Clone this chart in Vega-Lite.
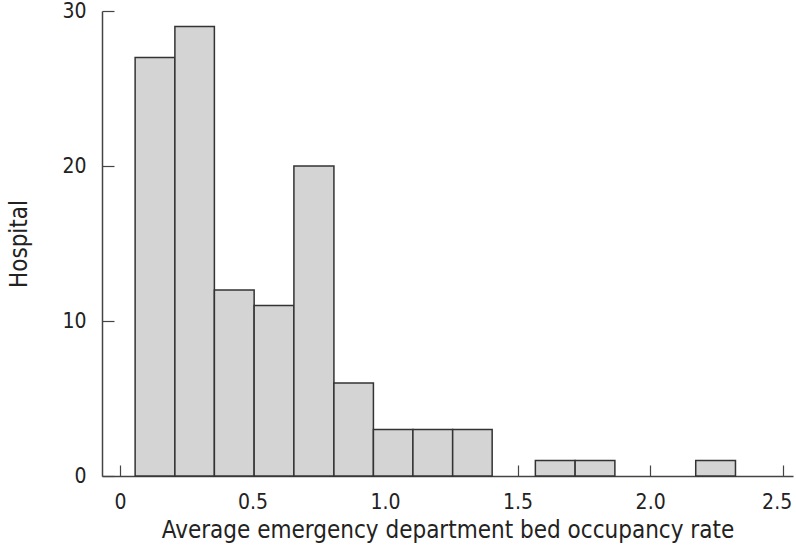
{
  "$schema": "https://vega.github.io/schema/vega-lite/v6.json",
  "autosize": "none",
  "width": 691,
  "height": 465,
  "padding": {"left": 102, "top": 11, "right": 3, "bottom": 74},
  "background": "white",
  "config": {
    "view": {"stroke": null},
    "font": "DejaVu Sans Condensed",
    "axis": {
      "grid": false,
      "domainColor": "#444444",
      "domainWidth": 1.5,
      "tickColor": "#444444",
      "tickWidth": 1.2,
      "labelColor": "#222222",
      "titleColor": "#222222",
      "labelFont": "DejaVu Sans Condensed",
      "titleFont": "DejaVu Sans Condensed",
      "labelFontSize": 21,
      "titleFontSize": 24,
      "titleFontWeight": "normal"
    }
  },
  "data": {
    "values": [
      {"start": 0.057, "end": 0.207, "count": 27},
      {"start": 0.207, "end": 0.356, "count": 29},
      {"start": 0.356, "end": 0.506, "count": 12},
      {"start": 0.506, "end": 0.656, "count": 11},
      {"start": 0.656, "end": 0.807, "count": 20},
      {"start": 0.807, "end": 0.956, "count": 6},
      {"start": 0.956, "end": 1.105, "count": 3},
      {"start": 1.105, "end": 1.255, "count": 3},
      {"start": 1.255, "end": 1.404, "count": 3},
      {"start": 1.567, "end": 1.717, "count": 1},
      {"start": 1.717, "end": 1.867, "count": 1},
      {"start": 2.172, "end": 2.322, "count": 1}
    ]
  },
  "mark": {"type": "bar", "fill": "#d4d4d4", "stroke": "#333333", "strokeWidth": 1.5},
  "encoding": {
    "x": {
      "field": "start",
      "type": "quantitative",
      "scale": {"domain": [-0.068, 2.539], "nice": false, "zero": false},
      "axis": {
        "title": "Average emergency department bed occupancy rate",
        "values": [0, 0.5, 1, 1.5, 2, 2.5],
        "labelExpr": "datum.value == 0 ? '0' : format(datum.value, '.1f')",
        "tickSize": -11,
        "labelPadding": 26,
        "labelFlush": 12,
        "labelFlushOffset": 9,
        "titlePadding": 6
      }
    },
    "x2": {"field": "end"},
    "y": {
      "field": "count",
      "type": "quantitative",
      "scale": {"domain": [0, 30], "nice": false},
      "axis": {
        "title": "Hospital",
        "values": [0, 10, 20, 30],
        "tickSize": -12,
        "labelPadding": 28,
        "titlePadding": 30
      }
    },
    "y2": {"datum": 0}
  }
}
